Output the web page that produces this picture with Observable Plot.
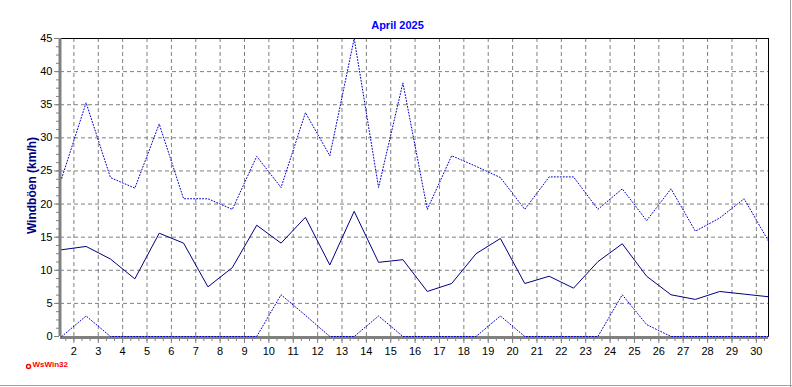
<!DOCTYPE html>
<html>
<head>
<meta charset="utf-8">
<script src="https://cdn.jsdelivr.net/npm/d3@7"></script>
<script src="https://cdn.jsdelivr.net/npm/@observablehq/plot@0.6"></script>
<style>
  body { margin: 0; background: #fff; }
  svg { display: block; }
</style>
</head>
<body>
<div id="chart"></div>
<script>
const days = d3.range(1, 31);
const gustMax = [23.9, 35.3, 24.0, 22.4, 32.1, 20.8, 20.8, 19.2, 27.2, 22.5,
                 33.8, 27.3, 45.0, 22.5, 38.3, 19.2, 27.3, 25.7, 24.0, 19.2,
                 24.1, 24.1, 19.2, 22.3, 17.5, 22.3, 15.9, 17.9, 20.8, 14.4];
const gustMean = [13.1, 13.6, 11.7, 8.7, 15.6, 14.1, 7.5, 10.4, 16.8, 14.1,
                  18.0, 10.8, 18.9, 11.2, 11.6, 6.8, 8.0, 12.5, 14.8, 8.0,
                  9.1, 7.3, 11.3, 14.0, 9.1, 6.3, 5.6, 6.8, 6.4, 6.0];
const gustMin = [0, 3.1, 0, 0, 0, 0, 0, 0, 0, 6.3,
                 3.2, 0, 0, 3.1, 0, 0, 0, 0, 3.1, 0,
                 0, 0, 0, 6.3, 1.8, 0, 0, 0, 0, 0];
const xTicks = d3.range(2, 31);
const yTicks = d3.range(0, 46, 5);
const xMinor = d3.range(5 / 3, 30.5, 1 / 3);
const yMinor = d3.range(0, 45.01, 1.25);
const title = "April 2025";
const yLabel = "Windböen (km/h)";
const credit = "WsWin32";

const rows = days.map((d, i) => ({x: d + 0.5, max: gustMax[i], mean: gustMean[i], min: gustMin[i]}));

const font = "'Liberation Sans', Arial, sans-serif";
const W = 792, H = 387;

const chart = Plot.plot({
  width: W,
  height: H,
  marginLeft: 60,
  marginRight: 24,
  marginTop: 38,
  marginBottom: 51,
  style: {fontFamily: font, fontSize: "11px", color: "black", background: "white", overflow: "visible"},
  x: {domain: [1.45, 30.5]},
  y: {domain: [0, 45]},
  marks: [
    Plot.gridX(xTicks, {stroke: "#808080", strokeOpacity: 1, strokeDasharray: "4,3"}),
    Plot.gridY(yTicks.filter(d => d > 0), {stroke: "#808080", strokeOpacity: 1, strokeDasharray: "4,3"}),
    Plot.ruleY([45], {stroke: "black", strokeWidth: 1}),
    Plot.ruleX([30.5], {stroke: "black", strokeWidth: 1}),
    Plot.ruleX([1.45], {stroke: "#808080", strokeWidth: 3, dx: -0.5}),
    Plot.ruleY([0], {stroke: "#808080", strokeWidth: 3, dy: 1}),
    Plot.axisY({ticks: yTicks, tickSize: 5, tickPadding: 2, stroke: "#808080", fill: "black", label: null, fontSize: 11, dx: -1}),
    Plot.axisY({ticks: yMinor, tickSize: 3, tickFormat: () => "", stroke: "#808080", label: null, dx: -1}),
    Plot.axisX({ticks: xTicks, tickSize: 5, tickPadding: 4, stroke: "#808080", fill: "black", label: null, fontSize: 11, dy: 2}),
    Plot.axisX({ticks: xMinor, tickSize: 3, tickFormat: () => "", stroke: "#808080", label: null, dy: 2}),
    Plot.line(rows, {x: "x", y: "max", stroke: "#0000c8", strokeWidth: 1, strokeDasharray: "1,2"}),
    Plot.line(rows, {x: "x", y: "min", stroke: "#0000c8", strokeWidth: 1, strokeDasharray: "1,2"}),
    Plot.line(rows, {x: "x", y: "mean", stroke: "#000080", strokeWidth: 1}),
    Plot.text([title], {frameAnchor: "top", text: d => d, dy: -10, dx: -17, fill: "#0000ff", fontWeight: "bold", fontSize: 11, fontFamily: font, lineAnchor: "bottom"}),
    Plot.text([yLabel], {frameAnchor: "left", text: d => d, rotate: -90, textAnchor: "middle", dx: -28, dy: -2, fill: "#000080", fontWeight: "bold", fontSize: 12, fontFamily: font}),
    Plot.dot([credit], {frameAnchor: "bottom-left", dx: -32, dy: 30, r: 2, stroke: "#ff0000", fill: "white", strokeWidth: 1.5}),
    Plot.text([credit], {frameAnchor: "bottom-left", text: d => d, dx: -28, dy: 30, textAnchor: "start", fill: "#ff0000", fontWeight: "bold", fontSize: 8, fontFamily: font})
  ]
});

const svg = d3.select(chart);
svg.append("line").attr("x1", W - 1.5).attr("x2", W - 1.5).attr("y1", 0).attr("y2", H).attr("stroke", "#a0a0a0").attr("stroke-width", 1);
svg.append("line").attr("x1", 0).attr("x2", W).attr("y1", H - 1.5).attr("y2", H - 1.5).attr("stroke", "#a0a0a0").attr("stroke-width", 1);

document.getElementById("chart").appendChild(chart);
</script>
</body>
</html>
